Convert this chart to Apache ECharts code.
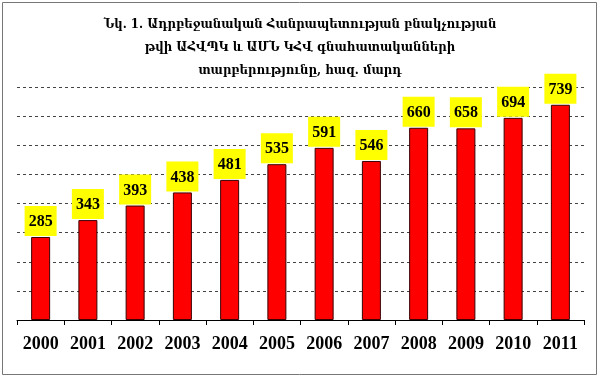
<!DOCTYPE html>
<html>
<head>
<meta charset="utf-8">
<script src="https://cdn.jsdelivr.net/npm/echarts@6/dist/echarts.min.js"></script>
<style>
  html, body { margin: 0; padding: 0; background: #fff; }
  #chart { width: 600px; height: 378px; }
</style>
</head>
<body>
<div id="chart"></div>
<script>
// ԱՀՎՊԿ և ԱՄՆ ԿՀՎ գնահատականների տարբերությունը
const years = ['2000', '2001', '2002', '2003', '2004', '2005', '2006', '2007', '2008', '2009', '2010', '2011'];
const diffValues = [285, 343, 393, 438, 481, 535, 591, 546, 660, 658, 694, 739];
const titleLines = [
    'Նկ. 1. Ադրբեջանական Հանրապետության բնակչության',
    'թվի ԱՀՎՊԿ և ԱՄՆ ԿՀՎ գնահատականների',
    'տարբերությունը, հազ. մարդ'
];

const myChart = echarts.init(document.getElementById('chart'));
const serif = '"Liberation Serif", "DejaVu Serif", serif';

myChart.setOption({
    animation: false,
    title: {
        text: titleLines.join('\n'),
        left: 'center',
        top: 8,
        textStyle: {
            fontFamily: '"DejaVu Serif Condensed", "DejaVu Serif", serif',
            fontSize: 13,
            fontWeight: 'bold',
            color: '#000',
            lineHeight: 23
        }
    },
    graphic: [{
        type: 'rect',
        shape: { x: 2.5, y: 2.5, width: 594, height: 372 },
        style: { fill: 'none', stroke: '#777', lineWidth: 1 },
        silent: true
    }],
    grid: { left: 17, right: 16, top: 87, bottom: 58 },
    xAxis: {
        type: 'category',
        data: years,
        axisLine: { lineStyle: { color: '#000', width: 1 } },
        axisTick: { show: true, length: 5, lineStyle: { color: '#000' } },
        axisLabel: {
            color: '#000',
            fontFamily: serif,
            fontWeight: 'bold',
            fontSize: 18,
            margin: 15
        }
    },
    yAxis: {
        type: 'value',
        min: 0,
        max: 800,
        interval: 100,
        axisLine: { show: false },
        axisTick: { show: false },
        axisLabel: { show: false },
        splitLine: { lineStyle: { color: '#444', type: [3, 3], width: 1 } }
    },
    series: [{
        type: 'bar',
        data: diffValues,
        barWidth: 19,
        itemStyle: { color: '#ff0000', borderColor: '#3a0000', borderWidth: 1 },
        label: {
            show: true,
            position: 'top',
            distance: 1,
            backgroundColor: '#ffff00',
            padding: [8, 4, 6, 4],
            color: '#000',
            fontFamily: serif,
            fontWeight: 'bold',
            fontSize: 16,
            lineHeight: 16
        }
    }]
});
</script>
</body>
</html>
